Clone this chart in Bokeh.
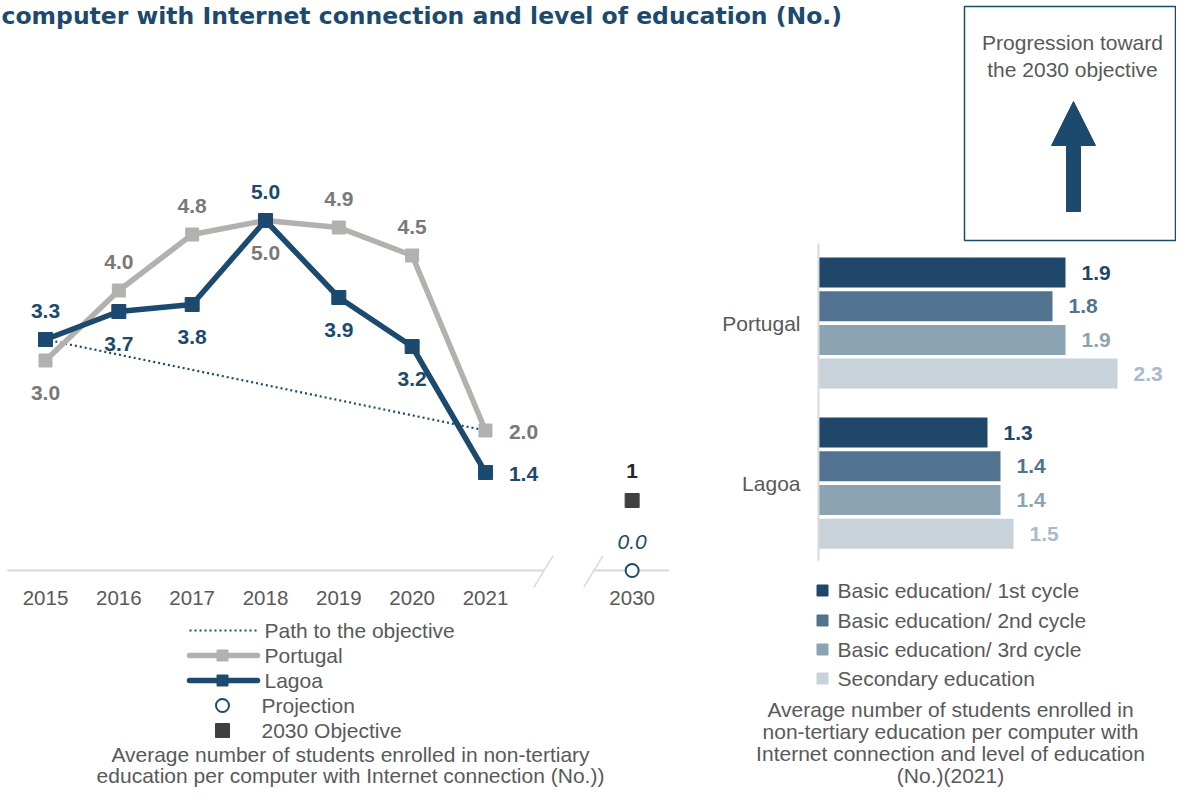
from bokeh.plotting import figure
from bokeh.models import Range1d
from bokeh.core.properties import value
from bokeh.embed import file_html
from bokeh.resources import INLINE

# ---------------- data ----------------
title_text = "computer with Internet connection and level of education (No.)"

years = ["2015", "2016", "2017", "2018", "2019", "2020", "2021"]
portugal = [3.0, 4.0, 4.8, 5.0, 4.9, 4.5, 2.0]
lagoa = [3.3, 3.7, 3.8, 5.0, 3.9, 3.2, 1.4]
portugal_label_pos = ["below", "above", "above", "below", "above", "above", "right"]
lagoa_label_pos = ["above", "below", "below", "above", "below", "below", "right"]

path_years = ["2015", "2021"]
path_values = [3.3, 2.0]

target_year = "2030"
objective_value = 1
projection_value = 0.0

left_legend = ["Path to the objective", "Portugal", "Lagoa", "Projection", "2030 Objective"]
left_caption = ["Average number of students enrolled in non-tertiary",
                "education per computer with Internet connection (No.))"]

bar_groups = ["Portugal", "Lagoa"]
levels = ["Basic education/ 1st cycle", "Basic education/ 2nd cycle",
          "Basic education/ 3rd cycle", "Secondary education"]
portugal_levels = [1.9, 1.8, 1.9, 2.3]
lagoa_levels = [1.3, 1.4, 1.4, 1.5]
right_caption = ["Average number of students enrolled in",
                 "non-tertiary education per computer with",
                 "Internet connection and level of education",
                 "(No.)(2021)"]

box_text = ["Progression toward", "the 2030 objective"]

# ---------------- styles / layout ----------------
FONT = "Liberation Sans"
DARK = "#1c4a6e"
GREY_LINE = "#b3b0b0"
PT_LABEL = "#7a7878"
TXT = "#595959"
AXIS = "#d9d9d9"
BAR_COLORS = ["#1e476a", "#51738f", "#8ca3b4", "#c8d2db"]
BAR_LABEL_COLORS = ["#1e476a", "#51738f", "#8ca3b4", "#a9bbcb"]

W, H = 1176, 787
# left chart mapping (figure pixels)
LX0, LDX = 45.0, 73.33     # x pixel of first year, pixels per year slot
LY0, LDY = 570.0, 70.0     # y pixel of value 0, pixels per unit
# bar chart mapping
BX0, BDX = 818.0, 130.0
BY0, BDY = 272.0, 33.7
GROUP_STEP = 4.75
BAR_H = 0.89

p = figure(width=W, height=H, x_range=Range1d(0, W), y_range=Range1d(H, 0),
           output_backend="svg", toolbar_location=None,
           x_axis_location=None, y_axis_location=None, min_border=0,
           background_fill_color="white", border_fill_color="white")
p.grid.visible = False
p.outline_line_color = None

p.extra_x_ranges = {
    "lx": Range1d(-LX0 / LDX, (W - LX0) / LDX),
    "bx": Range1d(-BX0 / BDX, (W - BX0) / BDX),
}
p.extra_y_ranges = {
    "ly": Range1d((LY0 - H) / LDY, LY0 / LDY),
    "by": Range1d((H - BY0) / BDY, -BY0 / BDY),
}


def txt(x, y, texts, size="21px", color=TXT, align="left", baseline="middle",
        style="normal", font=FONT, xr="default", yr="default", xoff=0, yoff=0):
    p.text(x=x, y=y, text=texts, text_font=value(font), text_font_size=size,
           text_color=color, text_align=align, text_baseline=baseline,
           text_font_style=style, x_offset=xoff, y_offset=yoff,
           x_range_name=xr, y_range_name=yr)


# ---------------- title ----------------
txt([1], [15], [title_text], size="23.5px", color=DARK, style="bold",
    font="DejaVu Sans")

# ---------------- left chart ----------------
year_idx = {y: i for i, y in enumerate(years)}
target_idx = len(years) + 1
xs = [year_idx[y] for y in years]

# axis with break
p.segment(x0=[-0.52, 7.46], y0=[0, 0], x1=[6.8, 8.5], y1=[0, 0],
          line_color=AXIS, line_width=2, x_range_name="lx", y_range_name="ly")
p.segment(x0=[6.66, 7.34], y0=[-0.24, -0.24], x1=[6.92, 7.60], y1=[0.21, 0.21],
          line_color=AXIS, line_width=1.5, x_range_name="lx", y_range_name="ly")

# tick labels
txt(xs + [target_idx], [0] * (len(years) + 1), years + [target_year],
    size="20.5px", align="center", xr="lx", yr="ly", yoff=27)

# path to objective
p.line([year_idx[y] for y in path_years], path_values, line_color=DARK,
       line_width=2.2, line_dash="2 3", x_range_name="lx", y_range_name="ly")

# Portugal
p.line(xs, portugal, line_color=GREY_LINE, line_width=5.5,
       x_range_name="lx", y_range_name="ly")
p.scatter(xs, portugal, marker="square", size=13, color=GREY_LINE,
          x_range_name="lx", y_range_name="ly")
# Lagoa
p.line(xs, lagoa, line_color=DARK, line_width=5.5,
       x_range_name="lx", y_range_name="ly")
p.scatter(xs, lagoa, marker="square", size=14, color=DARK,
          x_range_name="lx", y_range_name="ly")

OFF = {"above": (0, -29), "below": (0, 32), "right": (38, 1)}
txt(xs, portugal, ["%.1f" % v for v in portugal], size="21px", color=PT_LABEL,
    align="center", style="bold", xr="lx", yr="ly",
    xoff=[OFF[k][0] for k in portugal_label_pos],
    yoff=[OFF[k][1] for k in portugal_label_pos])
txt(xs, lagoa, ["%.1f" % v for v in lagoa], size="21px", color=DARK,
    align="center", style="bold", xr="lx", yr="ly",
    xoff=[OFF[k][0] for k in lagoa_label_pos],
    yoff=[OFF[k][1] for k in lagoa_label_pos])

# 2030 objective and projection
p.scatter([target_idx], [objective_value], marker="square", size=14,
          color="#404040", x_range_name="lx", y_range_name="ly")
txt([target_idx], [objective_value], ["%d" % objective_value], size="21px",
    color="#262626", align="center", style="bold", xr="lx", yr="ly", yoff=-30)
p.scatter([target_idx], [projection_value], marker="circle", size=13,
          fill_color="white", line_color=DARK, line_width=2,
          x_range_name="lx", y_range_name="ly")
txt([target_idx], [projection_value], ["%.1f" % projection_value], size="21px",
    color=DARK, align="center", style="italic", xr="lx", yr="ly", yoff=-29)

# left legend
LG_Y = [630, 655, 680, 705, 730]
LG_X0, LG_X1, LG_XM = 189, 257, 222
p.line([LG_X0, LG_X1], [LG_Y[0]] * 2, line_color=DARK, line_width=2, line_dash="2 3")
p.line([LG_X0, LG_X1], [LG_Y[1]] * 2, line_color=GREY_LINE, line_width=5.5, line_cap="round")
p.scatter([LG_XM], [LG_Y[1]], marker="square", size=11, color=GREY_LINE)
p.line([LG_X0, LG_X1], [LG_Y[2]] * 2, line_color=DARK, line_width=5.5, line_cap="round")
p.scatter([LG_XM], [LG_Y[2]], marker="square", size=11, color=DARK)
p.scatter([LG_XM], [LG_Y[3]], marker="circle", size=13, fill_color="white",
          line_color=DARK, line_width=2)
p.scatter([LG_XM], [LG_Y[4]], marker="square", size=14, color="#404040")
txt([264, 264, 264, 261, 261], LG_Y, left_legend)

txt([350, 350], [754, 775], left_caption, align="center")

# ---------------- right bar chart ----------------
all_vals = [portugal_levels, lagoa_levels]
for gi, vals in enumerate(all_vals):
    ys = [gi * GROUP_STEP + li for li in range(len(levels))]
    p.hbar(y=ys, left=0, right=vals, height=BAR_H, fill_color=BAR_COLORS,
           line_color=None, x_range_name="bx", y_range_name="by")
    txt(vals, ys, ["%.1f" % v for v in vals], size="21px",
        color=BAR_LABEL_COLORS, style="bold", xr="bx", yr="by", xoff=16)

group_centers = [gi * GROUP_STEP + (len(levels) - 1) / 2 for gi in range(len(bar_groups))]
txt([0] * len(bar_groups), group_centers, bar_groups, align="right",
    xr="bx", yr="by", xoff=-18)

# vertical axis line of the bar chart
p.segment(x0=[0], y0=[-0.86], x1=[0], y1=[8.55], line_color=AXIS, line_width=2,
          x_range_name="bx", y_range_name="by")

# right legend
RG_Y = [590, 620, 649, 678]
p.scatter([822] * 4, RG_Y, marker="square", size=11, color=BAR_COLORS)
txt([837] * 4, RG_Y, levels)

txt([950] * 4, [709, 731, 753, 775], right_caption, align="center")

# ---------------- progression box ----------------
p.quad(left=[964], right=[1175], top=[6], bottom=[240], fill_color=None,
       line_color=DARK, line_width=1.5)
txt([1072, 1072], [42, 69], box_text, align="center")
p.patch([1073, 1095, 1080, 1080, 1066, 1066, 1051],
        [101, 145, 145, 211, 211, 145, 145], fill_color=DARK, line_color=DARK)

open("out.html", "w").write(file_html(p, INLINE))
